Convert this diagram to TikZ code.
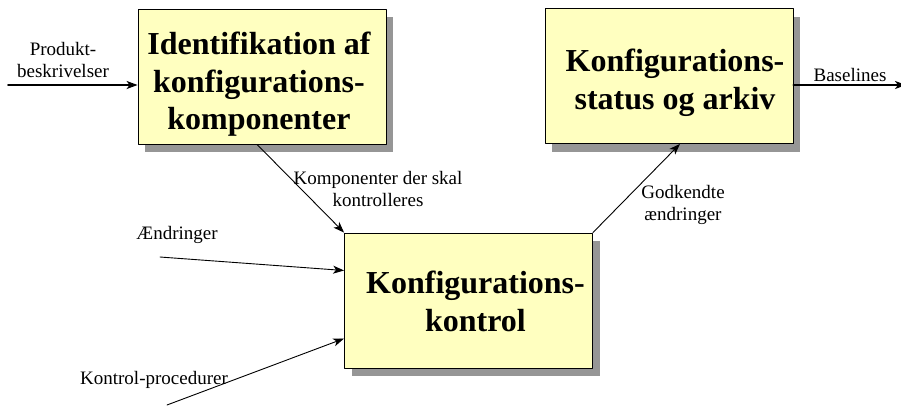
\documentclass[tikz,border=0pt]{standalone}
\usepackage{fontspec}
\setmainfont{Liberation Serif}
\usepackage{xcolor}
\usepackage{tikz}
\usetikzlibrary{positioning,calc,shadows,arrows.meta}

\definecolor{boxfill}{RGB}{255,255,192}
\definecolor{shadowgray}{RGB}{150,150,150}

\begin{document}
\begin{tikzpicture}[x=1pt,y=-1pt, line cap=round, line join=round]
	\useasboundingbox (0,0) rectangle (901,405);
	
	% ===== styles =====
	\tikzset{
		procbox/.style={draw=black, line width=0.8pt, fill=boxfill,
			minimum width=248pt, minimum height=135pt, inner sep=0pt,
			drop shadow={shadow xshift=7pt, shadow yshift=-8pt, fill=shadowgray, opacity=1}},
		boxtxt/.style={align=center, inner sep=0pt, font=\bfseries\fontsize{32}{37.5}\selectfont},
		lbl/.style={align=center, font=\fontsize{19}{22}\selectfont, inner sep=0pt},
		arr/.style={-{Stealth[length=11pt,width=8pt,inset=3pt]}, line width=0.9pt},
		thickarr/.style={arr, line width=1.8pt}
	}
	
	% ===== kasser =====
	\node[procbox] (ident) at (262,76.5) {};
	\node[procbox] (status) at (669,76) {};
	\node[procbox] (kontrol) at (468.5,300.5) {};
	\node[boxtxt] (identtxt) at ($(ident)+(-3,8)$) {Identifikation af\\konfigurations-\\komponenter};
	\node[boxtxt] (statustxt) at ($(status)+(6,7)$) {Konfigurations-\\status og arkiv};
	\node[boxtxt] (kontroltxt) at ($(kontrol)+(7,1)$) {Konfigurations-\\kontrol};
	
	% ===== frie ender =====
	\coordinate (prodin) at (8,85);
	\coordinate (baseout) at (906,85);
	\coordinate (aendin) at (160,257);
	\coordinate (procin) at (167,405);
	
	% ===== pile =====
	\draw[thickarr] (prodin) -- (prodin -| ident.west);
	\draw[thickarr] (baseout -| status.east) -- (baseout);
	\draw[arr] ($(ident.south)+(-5,0)$) -- (kontrol.north west);
	\draw[arr] (kontrol.north east) -- ($(status.south)+(11,0)$);
	\draw[arr] (aendin) -- ($(kontrol.west)+(0,-30)$);
	\draw[arr] (procin) -- ($(kontrol.west)+(0,38)$);
	
	% ===== tekster =====
	\node[lbl] (prodlbl) at (63,60) {Produkt-\\beskrivelser};
	\node[lbl] (komplbl) at (378,189) {Komponenter der skal\\kontrolleres};
	\node[lbl] (aendlbl) at (177,235) {Ændringer};
	\node[lbl] (proclbl) at (154,380) {Kontrol-procedurer};
	\node[lbl] (godklbl) at (683,205) {Godkendte\\ændringer};
	\node[lbl] (baselbl) at (850,75) {Baselines};
\end{tikzpicture}
\end{document}
